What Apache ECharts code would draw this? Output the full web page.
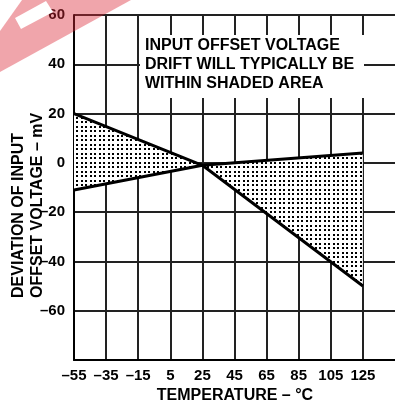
<!DOCTYPE html>
<html>
<head>
<meta charset="utf-8">
<script src="https://cdn.jsdelivr.net/npm/echarts@6/dist/echarts.min.js"></script>
<style>
  html, body { margin: 0; padding: 0; background: #fff; }
  #chart { width: 395px; height: 403px; }
</style>
</head>
<body>
<div id="chart"></div>
<script>
// Temperature points (°C) where the drift envelope changes slope
const temperatures = [-55, 25, 125];
// Envelope of offset voltage deviation (mV)
const upperDrift = [20, -1, 4];
const lowerDrift = [-11, -1, -50];
// Axis tick labels
const xTicks = [-55, -35, -15, 5, 25, 45, 65, 85, 105, 125];
const yTicks = [60, 40, 20, 0, -20, -40, -60];
const noteLines = ['INPUT OFFSET VOLTAGE', 'DRIFT WILL TYPICALLY BE', 'WITHIN SHADED AREA'];

const FONT = '"Liberation Sans", Arial, Helvetica, sans-serif';
const dash = v => (v < 0 ? '\u2013' + Math.abs(v) : String(v));

// Dotted fill used for the envelope
function dotPattern() {
  const c = document.createElement('canvas');
  c.width = 9; c.height = 9;
  const g = c.getContext('2d');
  g.fillStyle = '#fff';
  g.fillRect(0, 0, 9, 9);
  g.fillStyle = '#000';
  [[0, 0], [4, 0], [0, 4], [4, 4]].forEach(([x, y]) => g.fillRect(x, y, 2, 2));
  return c;
}
const dots = dotPattern();

const bandData = temperatures.map((t, i) => [t, upperDrift[i], lowerDrift[i]]);

// Each item fills the envelope segment between itself and the next point
function renderBand(params, api) {
  const i = params.dataIndex;
  if (i >= temperatures.length - 1) return null;
  const pts = [
    api.coord([temperatures[i], upperDrift[i]]),
    api.coord([temperatures[i + 1], upperDrift[i + 1]]),
    api.coord([temperatures[i + 1], lowerDrift[i + 1]]),
    api.coord([temperatures[i], lowerDrift[i]])
  ];
  return {
    type: 'polygon',
    shape: { points: pts },
    style: { fill: { image: dots, repeat: 'repeat' }, stroke: null }
  };
}

const chart = echarts.init(document.getElementById('chart'), null, { renderer: 'canvas' });

chart.setOption({
  animation: false,
  backgroundColor: '#fff',
  grid: { left: 74, top: 15, width: 330, height: 345, containLabel: false },
  xAxis: {
    type: 'value',
    min: -55,
    max: 145,
    axisLine: { show: true, onZero: false, lineStyle: { color: '#000', width: 2 } },
    axisTick: { show: false, customValues: xTicks },
    axisLabel: {
      customValues: xTicks,
      formatter: dash,
      margin: 8,
      color: '#000',
      fontFamily: FONT,
      fontWeight: 'bold',
      fontSize: 15
    },
    splitLine: { show: true, lineStyle: { color: '#222', width: 2 } }
  },
  yAxis: {
    type: 'value',
    min: -80,
    max: 60,
    interval: 20,
    axisLine: { show: true, onZero: false, lineStyle: { color: '#000', width: 2 } },
    axisTick: { show: false },
    axisLabel: {
      formatter: v => (yTicks.indexOf(v) >= 0 ? dash(v) : ''),
      margin: 9,
      color: '#000',
      fontFamily: FONT,
      fontWeight: 'bold',
      fontSize: 15
    },
    splitLine: { show: true, lineStyle: { color: '#222', width: 2 } }
  },
  series: [
    {
      name: 'envelope',
      type: 'custom',
      data: bandData,
      encode: { x: 0, y: [1, 2] },
      renderItem: renderBand,
      silent: true,
      z: 3
    },
    {
      name: 'upper',
      type: 'line',
      data: temperatures.map((t, i) => [t, upperDrift[i]]),
      symbol: 'none',
      lineStyle: { color: '#000', width: 3 },
      z: 5
    },
    {
      name: 'lower',
      type: 'line',
      data: temperatures.map((t, i) => [t, lowerDrift[i]]),
      symbol: 'none',
      lineStyle: { color: '#000', width: 3 },
      z: 5
    }
  ],
  graphic: [
    // note box
    {
      type: 'rect',
      shape: { x: 140, y: 35, width: 224, height: 63 },
      style: { fill: '#fff' },
      z: 50
    },
    {
      type: 'text',
      x: 145,
      y: 36,
      style: {
        text: noteLines.join('\n'),
        font: 'bold 16px ' + FONT,
        fill: '#000',
        lineHeight: 19,
        textAlign: 'left',
        textVerticalAlign: 'top'
      },
      z: 51
    },
    // y axis title
    {
      type: 'text',
      x: 9,
      y: 298,
      rotation: Math.PI / 2,
      style: {
        text: 'DEVIATION OF INPUT\nOFFSET VOLTAGE \u2013 mV',
        font: 'bold 16px ' + FONT,
        fill: '#000',
        lineHeight: 19,
        textAlign: 'left',
        textVerticalAlign: 'top'
      },
      z: 51
    },
    // x axis title
    {
      type: 'text',
      x: 235,
      y: 396,
      style: {
        text: 'TEMPERATURE \u2013 \u00b0C',
        font: 'bold 16px ' + FONT,
        fill: '#000',
        textAlign: 'center',
        textVerticalAlign: 'middle'
      },
      z: 51
    },
    // corner banner
    {
      type: 'polygon',
      silent: true,
      shape: { points: [[22, 0], [131, 0], [0, 72], [0, 31]] },
      style: { fill: 'rgba(220,40,55,0.42)' },
      z: 100
    },
    {
      type: 'polygon',
      silent: true,
      shape: { points: [[46, 1], [53, 12], [21, 29], [15, 18]] },
      style: { fill: '#fff' },
      z: 101
    }
  ]
});
</script>
</body>
</html>
